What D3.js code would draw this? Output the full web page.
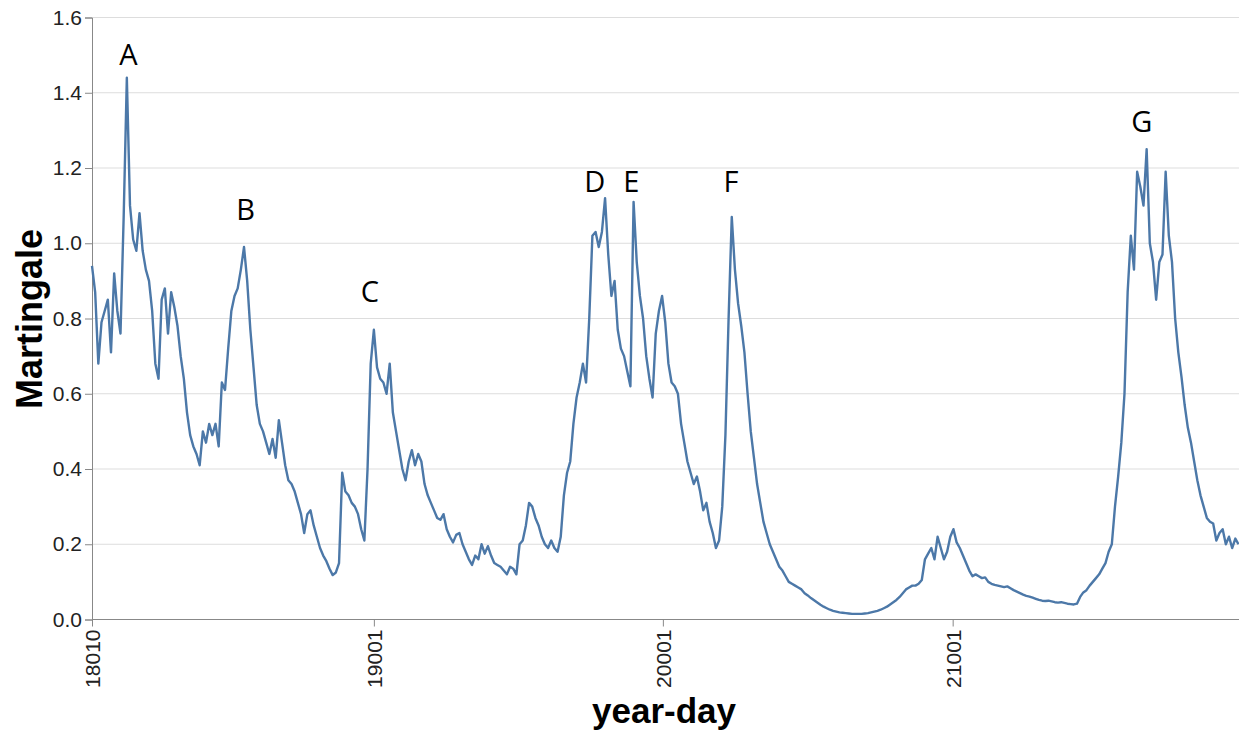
<!DOCTYPE html>
<html>
<head>
<meta charset="utf-8">
<script src="https://cdn.jsdelivr.net/npm/d3@7"></script>
<style>
  body { margin: 0; background: #fff; }
  svg { display: block; }
</style>
</head>
<body>
<svg id="chart" width="1239" height="738"></svg>
<script>
// Martingale values, one sample every 4 days starting 2018-01-10
const startDay = "2018-01-10";
const stepDays = 4;
const martingale = [
  0.94, 0.87, 0.68, 0.79, 0.82, 0.85, 0.71, 0.92, 0.82, 0.76,
  1.07, 1.44, 1.10, 1.01, 0.98, 1.08, 0.98, 0.93, 0.90, 0.82,
  0.68, 0.64, 0.85, 0.88, 0.76, 0.87, 0.83, 0.78, 0.70, 0.64,
  0.55, 0.49, 0.46, 0.44, 0.41, 0.50, 0.47, 0.52, 0.49, 0.52,
  0.46, 0.63, 0.61, 0.72, 0.82, 0.86, 0.88, 0.93, 0.99, 0.90,
  0.77, 0.67, 0.57, 0.52, 0.50, 0.47, 0.44, 0.48, 0.43, 0.53,
  0.47, 0.41, 0.37, 0.36, 0.34, 0.31, 0.28, 0.23, 0.28, 0.29,
  0.25, 0.22, 0.19, 0.17, 0.155, 0.135, 0.118, 0.125, 0.15, 0.39,
  0.34, 0.33, 0.31, 0.30, 0.28, 0.24, 0.21, 0.40, 0.68, 0.77,
  0.67, 0.64, 0.63, 0.60, 0.68, 0.55, 0.50, 0.45, 0.40, 0.37,
  0.42, 0.45, 0.41, 0.44, 0.42, 0.36, 0.33, 0.31, 0.29, 0.27,
  0.265, 0.28, 0.24, 0.22, 0.205, 0.225, 0.23, 0.20, 0.18, 0.16,
  0.145, 0.17, 0.16, 0.20, 0.175, 0.195, 0.17, 0.15, 0.145, 0.14,
  0.13, 0.12, 0.14, 0.135, 0.12, 0.20, 0.21, 0.25, 0.31, 0.30,
  0.27, 0.25, 0.22, 0.20, 0.19, 0.21, 0.19, 0.18, 0.22, 0.33,
  0.39, 0.42, 0.52, 0.59, 0.63, 0.68, 0.63, 0.80, 1.02, 1.03,
  0.99, 1.03, 1.12, 0.97, 0.86, 0.90, 0.77, 0.72, 0.70, 0.66,
  0.62, 1.11, 0.95, 0.86, 0.80, 0.70, 0.64, 0.59, 0.76, 0.82,
  0.86, 0.79, 0.68, 0.63, 0.62, 0.60, 0.52, 0.47, 0.42, 0.39,
  0.36, 0.38, 0.34, 0.29, 0.31, 0.26, 0.23, 0.19, 0.21, 0.30,
  0.49, 0.80, 1.07, 0.93, 0.84, 0.78, 0.71, 0.60, 0.50, 0.43,
  0.36, 0.31, 0.26, 0.23, 0.20, 0.18, 0.16, 0.14, 0.13, 0.115,
  0.10, 0.095, 0.09, 0.085, 0.08, 0.07, 0.064, 0.057, 0.051, 0.045,
  0.039, 0.034, 0.03, 0.026, 0.023, 0.021, 0.019, 0.018, 0.017, 0.016,
  0.015, 0.015, 0.015, 0.015, 0.016, 0.017, 0.019, 0.021, 0.023, 0.026,
  0.03, 0.034, 0.04, 0.046, 0.052, 0.06, 0.07, 0.08, 0.085, 0.09,
  0.09, 0.095, 0.105, 0.16, 0.175, 0.19, 0.16, 0.22, 0.19, 0.16,
  0.18, 0.22, 0.24, 0.205, 0.19, 0.17, 0.15, 0.13, 0.115, 0.12,
  0.115, 0.11, 0.112, 0.10, 0.095, 0.092, 0.09, 0.088, 0.086, 0.088,
  0.083, 0.078, 0.074, 0.07, 0.066, 0.063, 0.061, 0.058, 0.055, 0.052,
  0.05, 0.049, 0.05, 0.048, 0.046, 0.045, 0.046, 0.044, 0.042, 0.041,
  0.04, 0.042, 0.06, 0.072, 0.078, 0.09, 0.10, 0.11, 0.12, 0.135,
  0.15, 0.18, 0.20, 0.30, 0.38, 0.47, 0.60, 0.87, 1.02, 0.93,
  1.19, 1.15, 1.10, 1.25, 1.00, 0.95, 0.85, 0.95, 0.97, 1.19,
  1.02, 0.95, 0.80, 0.71, 0.645, 0.57, 0.51, 0.47, 0.42, 0.37,
  0.33, 0.30, 0.27, 0.26, 0.255, 0.21, 0.23, 0.24, 0.20, 0.22,
  0.19, 0.215, 0.20
];

// Axis ticks
const yTicks = [0, 0.2, 0.4, 0.6, 0.8, 1.0, 1.2, 1.4, 1.6];
const xTickDays = ["2018-01-10", "2019-01-01", "2020-01-01", "2021-01-01"];

// Peak annotations: letter, day, and value at the letter's baseline
const peakNames = ["A", "B", "C", "D", "E", "F", "G"];
const peakDays = ["2018-02-25", "2018-07-23", "2018-12-27", "2019-10-07", "2019-11-22", "2020-03-27", "2021-08-28"];
const peakLabelValues = [1.474, 1.062, 0.845, 1.137, 1.137, 1.137, 1.295];

const parseDay = d3.utcParse("%Y-%m-%d");
const fmtYearDay = d3.utcFormat("%y%j");
const start = parseDay(startDay);

const series = martingale.map((v, i) => ({ date: d3.utcDay.offset(start, i * stepDays), value: v }));

const svg = d3.select("#chart");
const plot = { left: 92, right: 1238.5, top: 17.5, bottom: 619.5, edge: 1239 };

const x = d3.scaleUtc()
  .domain([start, series[series.length - 1].date])
  .range([plot.left, plot.right]);

const y = d3.scaleLinear()
  .domain([0, 1.6])
  .range([plot.bottom, plot.top]);

// Horizontal gridlines
svg.append("g")
  .selectAll("line")
  .data(yTicks)
  .join("line")
  .attr("x1", plot.left)
  .attr("x2", plot.edge)
  .attr("y1", d => y(d))
  .attr("y2", d => y(d))
  .attr("stroke", "#dddddd")
  .attr("stroke-width", 1);

const labelFont = "'Liberation Sans', Arial, Helvetica, sans-serif";

// Y axis
const yAxis = svg.append("g")
  .attr("transform", `translate(${plot.left},0)`)
  .call(d3.axisLeft(y).tickValues(yTicks).tickFormat(d3.format(".1f")).tickSize(7).tickPadding(3));
yAxis.select(".domain").attr("stroke", "#888");
yAxis.selectAll(".tick line").attr("stroke", "#888");
yAxis.selectAll(".tick text")
  .attr("fill", "#222")
  .style("font-family", labelFont)
  .style("font-size", "21px");

// X axis with vertical labels
const xAxis = svg.append("g")
  .attr("transform", `translate(0,${plot.bottom})`)
  .call(d3.axisBottom(x).tickValues(xTickDays.map(parseDay)).tickFormat(fmtYearDay).tickSize(7).tickPadding(3));
xAxis.select(".domain").attr("stroke", "#888").attr("d", `M${plot.left},0H${plot.edge}`);
xAxis.selectAll(".tick line").attr("stroke", "#888");
xAxis.selectAll(".tick text")
  .attr("fill", "#222")
  .attr("transform", "rotate(-90)")
  .attr("x", -10)
  .attr("y", 0)
  .attr("dy", "0.35em")
  .style("text-anchor", "end")
  .style("font-family", labelFont)
  .style("font-size", "21px");

// Series line
const line = d3.line()
  .x(d => x(d.date))
  .y(d => y(d.value));

svg.append("path")
  .datum(series)
  .attr("fill", "none")
  .attr("stroke", "#4c78a8")
  .attr("stroke-width", 2.4)
  .attr("stroke-linejoin", "round")
  .attr("d", line);

// Axis titles
svg.append("text")
  .attr("transform", "translate(42,319) rotate(-90)")
  .attr("text-anchor", "middle")
  .style("font-family", labelFont)
  .style("font-weight", "bold")
  .style("font-size", "36px")
  .attr("fill", "#000")
  .text("Martingale");

svg.append("text")
  .attr("x", 664)
  .attr("y", 723)
  .attr("text-anchor", "middle")
  .style("font-family", labelFont)
  .style("font-weight", "bold")
  .style("font-size", "35px")
  .attr("fill", "#000")
  .text("year-day");

// Peak letters
svg.append("g")
  .selectAll("text")
  .data(peakNames.map((n, i) => ({ name: n, date: parseDay(peakDays[i]), value: peakLabelValues[i] })))
  .join("text")
  .attr("x", d => x(d.date))
  .attr("y", d => y(d.value))
  .attr("text-anchor", "middle")
  .style("font-family", "'Open Sans', 'Noto Sans', sans-serif")
  .style("font-size", "29px")
  .attr("fill", "#000")
  .text(d => d.name);
</script>
</body>
</html>
